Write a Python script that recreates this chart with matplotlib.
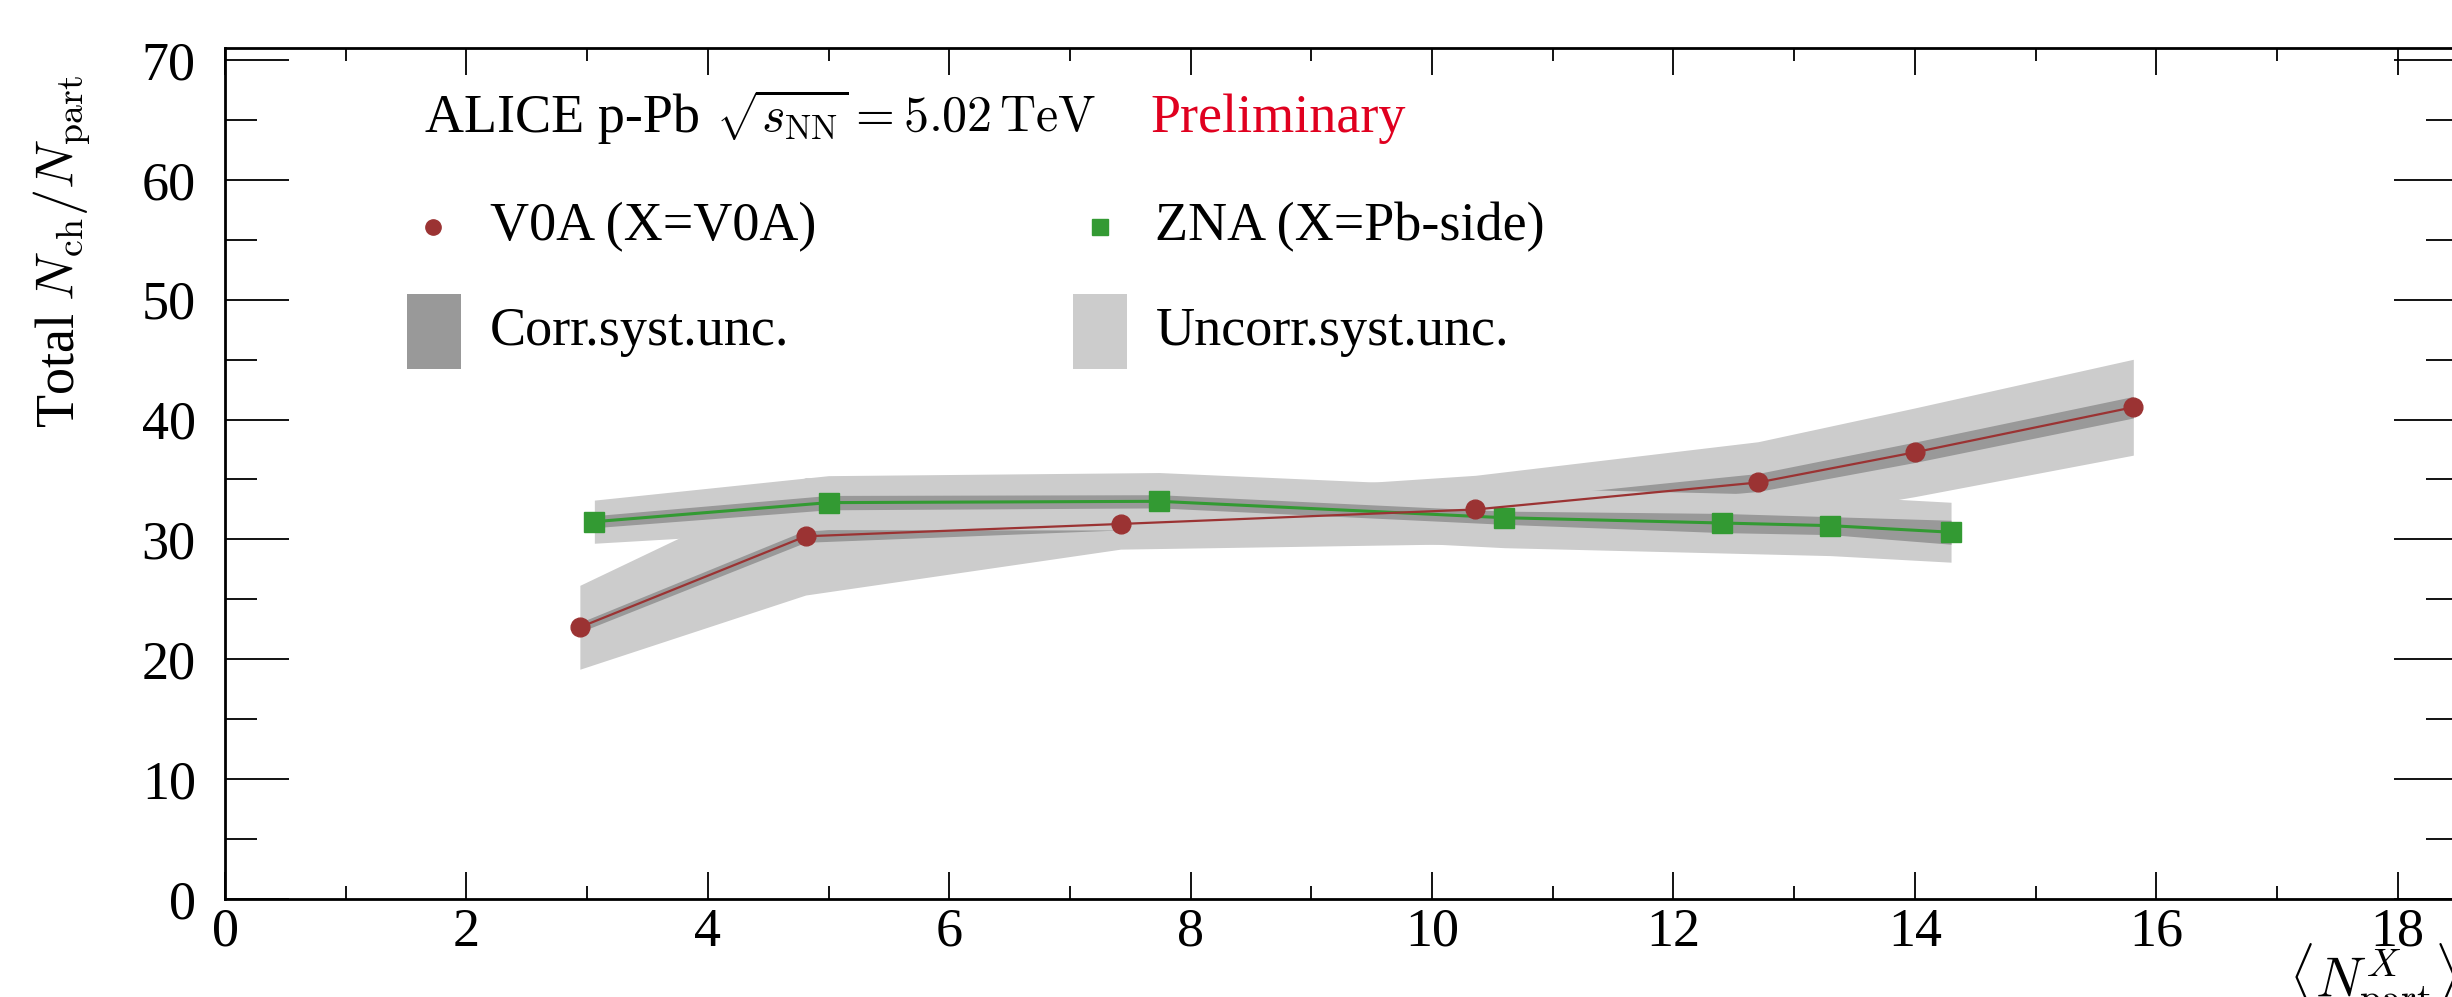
import matplotlib
matplotlib.use("Agg")
import numpy as np
import matplotlib.pyplot as plt
from matplotlib.patches import Rectangle
from matplotlib.lines import Line2D
from matplotlib.ticker import MultipleLocator

# data
v0a_x = [2.94, 4.81, 7.42, 10.36, 12.70, 14.00, 15.81]
v0a_y = [22.67, 30.26, 31.29, 32.50, 34.75, 37.27, 41.03]
v0a_uncorr = [3.5, 4.9, 2.1, 2.85, 3.4, 3.7, 4.0]
v0a_corr = [0.4, 0.5, 0.5, 0.6, 0.75, 0.85, 0.9]

zna_x = [3.06, 5.00, 7.74, 10.60, 12.40, 13.30, 14.30]
zna_y = [31.48, 33.07, 33.18, 31.81, 31.37, 31.15, 30.60]
zna_uncorr = [1.8, 2.25, 2.4, 2.5, 2.5, 2.5, 2.5]
zna_corr = [0.5, 0.6, 0.55, 0.55, 0.8, 0.75, 1.0]

red = "#9b3333"
green = "#339a33"
dark = "#999999"
light = "#cccccc"

plt.rcParams['font.family'] = ['Liberation Serif', 'DejaVu Serif']
plt.rcParams['mathtext.fontset'] = 'cm'

W, H = 2452, 997
fig = plt.figure(figsize=(W / 100, H / 100), dpi=100)
ax = fig.add_axes([225 / W, 1 - 899 / H, (2458 - 225) / W, (899 - 48) / H])

vx, vy = np.array(v0a_x), np.array(v0a_y)
zx, zy = np.array(zna_x), np.array(zna_y)

# bands (ROOT-like draw order)
ax.fill_between(vx, vy - v0a_uncorr, vy + v0a_uncorr, color=light, lw=0, zorder=1)
ax.fill_between(vx, vy - v0a_corr, vy + v0a_corr, color=dark, lw=0, zorder=2)
ax.fill_between(zx, zy - zna_uncorr, zy + zna_uncorr, color=light, lw=0, zorder=3)
ax.fill_between(zx, zy - zna_corr, zy + zna_corr, color=dark, lw=0, zorder=4)

ax.plot(zx, zy, color=green, lw=2.2, marker='s', ms=14, mec=green, zorder=5)
ax.plot(vx, vy, color=red, lw=1.6, marker='o', ms=13.5, mec=red, zorder=6)

ax.set_xlim(0, 18.5)
ax.set_ylim(0, 71)
ax.xaxis.set_major_locator(MultipleLocator(2))
ax.xaxis.set_minor_locator(MultipleLocator(1))
ax.yaxis.set_major_locator(MultipleLocator(10))
ax.yaxis.set_minor_locator(MultipleLocator(5))

ax.tick_params(axis='both', which='both', direction='in', top=True, right=True,
               labelsize=39, width=1.3, colors='black')
ax.tick_params(axis='x', which='major', length=19.5, pad=6)
ax.tick_params(axis='x', which='minor', length=9.5)
ax.tick_params(axis='y', which='major', length=46, pad=21)
ax.tick_params(axis='y', which='minor', length=23)
for s in ax.spines.values():
    s.set_linewidth(2.0)

# axis titles
fig.text(62 / W, 1 - 75 / H, r"Total $N_{\mathrm{ch}}/N_{\mathrm{part}}$",
         rotation=90, ha='center', va='top', fontsize=39)
fig.text(2289 / W, 1 - 941 / H, r"$\langle N_{\mathrm{part}}^{X}\rangle$",
         ha='left', va='top', fontsize=40)

# header
def fxy(px, py):
    return px / W, 1 - py / H

fig.text(*fxy(425, 132), "ALICE p-Pb", fontsize=39, va='baseline', ha='left')
fig.text(*fxy(716, 132), r"$\sqrt{s_{\mathrm{NN}}} = 5.02\,\mathrm{TeV}$",
         fontsize=36, va='baseline', ha='left')
fig.text(*fxy(1150, 132), "Preliminary", color="#e0001f",
         fontsize=39, va='baseline', ha='left')

# legend
fig.add_artist(Line2D([433 / W], [1 - 227 / H], marker='o', ms=11, color=red,
                      mec=red, transform=fig.transFigure))
fig.text(*fxy(490, 240), "V0A (X=V0A)", fontsize=39, va='baseline')
fig.add_artist(Line2D([1100 / W], [1 - 227 / H], marker='s', ms=11, color=green,
                      mec=green, transform=fig.transFigure))
fig.text(*fxy(1155, 240), "ZNA (X=Pb-side)", fontsize=39, va='baseline')

fig.add_artist(Rectangle(fxy(407, 369), 54 / W, 75 / H, color=dark, lw=0,
                         transform=fig.transFigure))
fig.text(*fxy(490, 345), "Corr.syst.unc.", fontsize=39, va='baseline')
fig.add_artist(Rectangle(fxy(1073, 369), 54 / W, 75 / H, color=light, lw=0,
                         transform=fig.transFigure))
fig.text(*fxy(1156, 345), "Uncorr.syst.unc.", fontsize=39, va='baseline')

fig.savefig("out.png", dpi=100)
